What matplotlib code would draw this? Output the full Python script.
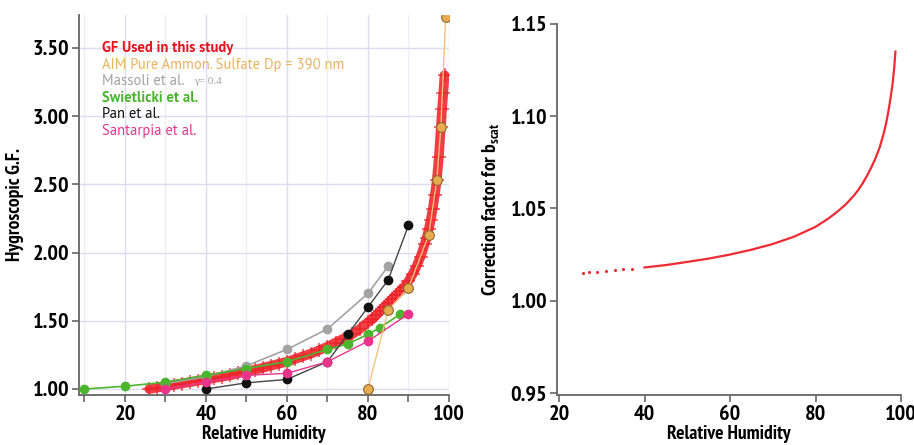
import numpy as np
import matplotlib
matplotlib.use("Agg")
import matplotlib.pyplot as plt
from matplotlib.ticker import MultipleLocator, FormatStrFormatter

narrow = ['PT Sans Narrow', 'Roboto Condensed', 'Fira Sans Condensed',
          'Asap Condensed', 'Sofia Sans Condensed', 'DejaVu Sans']
plain = ['PT Sans', 'Open Sans', 'Liberation Sans', 'DejaVu Sans']
plt.rcParams['font.family'] = narrow

# GF used in this study
gf_rh = [26, 28, 30, 32, 34, 36, 38, 40, 42, 44, 46, 48, 50, 52, 54, 56, 58, 60,
         62, 64, 66, 68, 70, 72, 74, 76, 78, 80, 81, 82, 83, 84, 85, 86, 87, 88,
         89, 90, 91, 92, 93, 94, 94.5, 95, 95.5, 96, 96.5, 97, 97.5, 98, 98.3,
         98.6, 98.9]
gf_val = [1.00, 1.01, 1.02, 1.03, 1.04, 1.05, 1.06, 1.07, 1.08, 1.09, 1.10, 1.115,
          1.13, 1.14, 1.155, 1.17, 1.185, 1.20, 1.22, 1.24, 1.26, 1.285, 1.31,
          1.34, 1.37, 1.40, 1.44, 1.49, 1.51, 1.54, 1.57, 1.60, 1.63, 1.66, 1.69,
          1.72, 1.75, 1.79, 1.84, 1.90, 1.97, 2.06, 2.11, 2.17, 2.24, 2.32, 2.42,
          2.53, 2.70, 2.92, 3.05, 3.17, 3.30]

aim_rh = [80, 85, 90, 95, 97, 98, 99.2]
aim_gf = [1.00, 1.58, 1.74, 2.13, 2.53, 2.92, 3.73]

massoli_rh = [30, 40, 50, 60, 70, 80, 85]
massoli_gf = [1.04, 1.09, 1.17, 1.29, 1.44, 1.70, 1.90]

swiet_rh = [10, 20, 30, 40, 50, 60, 70, 75, 80, 83, 88]
swiet_gf = [1.00, 1.02, 1.05, 1.10, 1.15, 1.20, 1.29, 1.33, 1.40, 1.45, 1.55]

pan_rh = [40, 50, 60, 70, 75, 80, 85, 90]
pan_gf = [1.00, 1.045, 1.07, 1.20, 1.40, 1.60, 1.80, 2.20]

santa_rh = [30, 40, 50, 60, 70, 80, 90]
santa_gf = [1.00, 1.05, 1.10, 1.115, 1.20, 1.35, 1.55]

# correction factor for b_scat
cf_rh = [25.6, 27, 29, 31, 33, 35, 37, 40, 45, 50, 55, 60, 65, 70, 75, 80, 83,
         85, 87, 88, 89, 90, 91, 92, 93, 94, 95, 96, 96.5, 97, 97.5, 98, 98.4, 98.7]
cf_val = [1.0150, 1.0153, 1.0157, 1.0161, 1.0165, 1.0169, 1.0173, 1.0180, 1.0193,
          1.0210, 1.0228, 1.0250, 1.0276, 1.0307, 1.0347, 1.0400, 1.0445, 1.0480,
          1.0520, 1.0545, 1.0570, 1.0600, 1.0635, 1.0675, 1.0720, 1.0770, 1.0830,
          1.0910, 1.0960, 1.1020, 1.1090, 1.1170, 1.1260, 1.1350]

legend_items = [
    ("GF Used in this study", '#E8141C', 'bold'),
    ("AIM Pure Ammon. Sulfate Dp = 390 nm", '#EAB362', 'normal'),
    ("Massoli et al.", '#A3A3A3', 'normal'),
    ("Swietlicki et al.", '#4CB52E', 'bold'),
    ("Pan et al.", '#111111', 'normal'),
    ("Santarpia et al.", '#E8358B', 'normal'),
]

fig = plt.figure(figsize=(9.14, 4.45), dpi=100)
ax1 = fig.add_axes([0.0864, 0.1124, 0.4048, 0.854])
ax2 = fig.add_axes([0.6094, 0.1124, 0.3764, 0.834])

label_font = dict(fontsize=14, fontweight='bold')

# ---- left panel
ax1.set_xlim(8.64, 100)
ax1.set_ylim(0.956, 3.742)
ax1.xaxis.set_major_locator(MultipleLocator(20))
ax1.xaxis.set_minor_locator(MultipleLocator(10))
ax1.yaxis.set_major_locator(MultipleLocator(0.5))
ax1.grid(which='major', color='#DCDCF0', lw=1.0, zorder=0)
ax1.grid(which='minor', axis='x', color='#EEEEF7', lw=1.0, zorder=0)
ax1.set_axisbelow(True)

ax1.plot(gf_rh, gf_val, '-', color='#EE1C24', lw=7, alpha=0.85,
         solid_capstyle='round', zorder=2)
ax1.plot(gf_rh, gf_val, '+', color='#EE1C24', ms=10, mew=1.1, alpha=0.8, zorder=2)

ax1.plot(massoli_rh, massoli_gf, '-o', color='#A3A3A3', lw=1.2, ms=6, zorder=3)
ax1.plot(swiet_rh, swiet_gf, '-o', color='#4CB52E', lw=1.2, ms=6, zorder=3)
ax1.plot(pan_rh, pan_gf, '-', color='#444444', lw=1.0, zorder=3)
ax1.plot(pan_rh, pan_gf, 'o', color='#111111', ms=6, zorder=3)
ax1.plot(santa_rh, santa_gf, '-o', color='#E8358B', lw=1.0, ms=6, zorder=4)
ax1.plot(aim_rh, aim_gf, '-', color='#F2C47E', lw=1.0, zorder=5)
ax1.plot(aim_rh, aim_gf, 'o', mfc='#E8AC50', mec='#8C6B30', mew=0.8, ms=7, zorder=6)

for i, (txt, col, wt) in enumerate(legend_items):
    ax1.text(0.061, 0.913 - i * 0.0435, txt, transform=ax1.transAxes, color=col,
             fontsize=10.5, fontweight=wt, va='center', ha='left', family=plain)
ax1.text(0.31, 0.913 - 2 * 0.0435, "\u03b3= 0.4", transform=ax1.transAxes,
         color='#A3A3A3', fontsize=8, va='center', ha='left',
         family=['Liberation Serif', 'DejaVu Serif'])

ax1.set_xlabel("Relative Humidity", labelpad=1, **label_font)
ax1.set_ylabel("Hygroscopic G.F.", labelpad=6, **label_font)

# ---- right panel
ax2.set_xlim(19.53, 100)
ax2.set_ylim(0.9489, 1.15)
ax2.xaxis.set_major_locator(MultipleLocator(20))
ax2.yaxis.set_major_locator(MultipleLocator(0.05))
cf_rh_a = np.array(cf_rh)
cf_val_a = np.array(cf_val)
low = cf_rh_a <= 37
ax2.plot(cf_rh_a[low], cf_val_a[low], '.', color='#EE2A33', ms=2.5, zorder=3)
ax2.plot(cf_rh_a[~low], cf_val_a[~low], '-', color='#EE2A33', lw=1.6, zorder=3)
ax2.set_xlabel("Relative Humidity", labelpad=1, **label_font)
ax2.set_ylabel("Correction factor for b$_{\\mathregular{scat}}$", labelpad=6, **label_font)

for ax in (ax1, ax2):
    for s in ('top', 'right'):
        ax.spines[s].set_visible(False)
    for s in ('left', 'bottom'):
        ax.spines[s].set_color('#666666')
        ax.spines[s].set_linewidth(1.3)
    ax.tick_params(which='both', direction='out', color='#666666', width=1.2,
                   length=5, labelsize=16, pad=2)
    ax.yaxis.set_major_formatter(FormatStrFormatter('%.2f'))
    for lab in ax.get_xticklabels() + ax.get_yticklabels():
        lab.set_fontweight('bold')

fig.savefig("out.png", dpi=100)
